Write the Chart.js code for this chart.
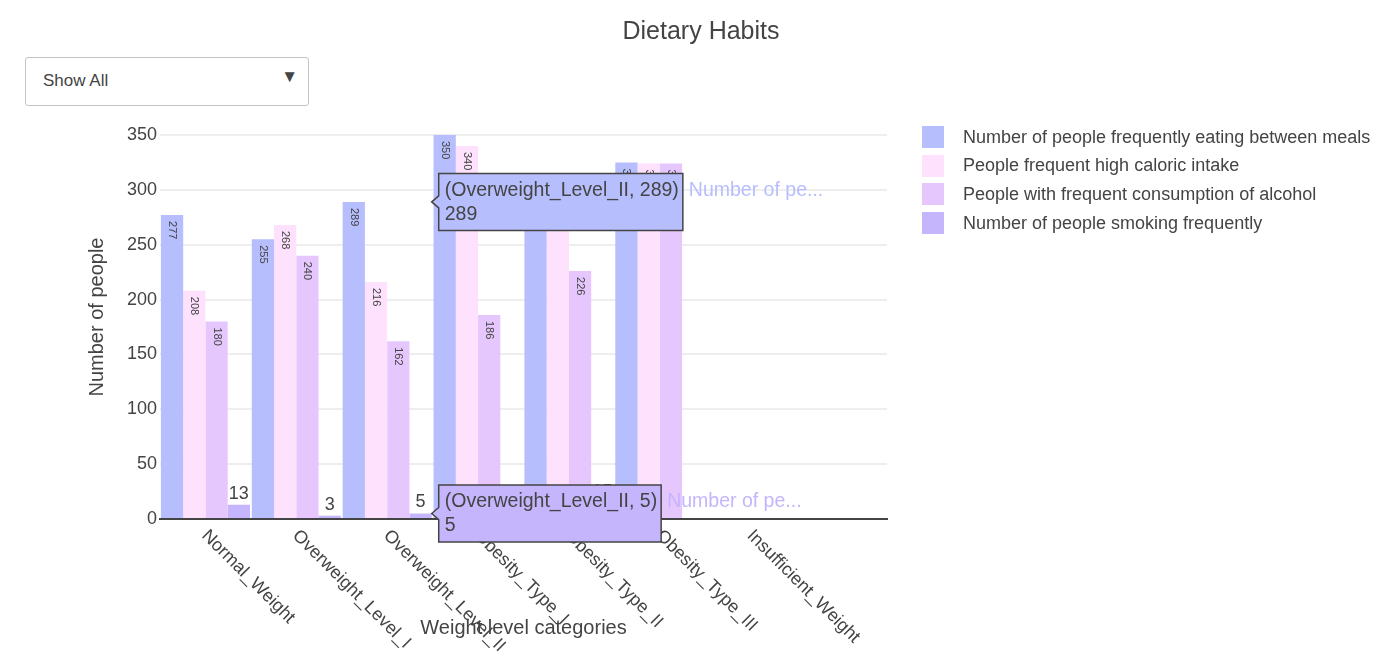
<!DOCTYPE html>
<html>
<head>
<meta charset="utf-8">
<title>Dietary Habits</title>
<script src="https://cdn.jsdelivr.net/npm/chart.js@4/dist/chart.umd.min.js"></script>
<style>
  body { margin: 0; width: 1390px; height: 661px; overflow: hidden; background: #fff;
         font-family: "Liberation Sans", Arial, sans-serif; color: #444; position: relative; }
  #title { position: absolute; top: 15px; left: 0; width: 1402px; text-align: center; font-size: 25px; line-height: 30px; }
  #picker { position: absolute; left: 25px; top: 57px; width: 284px; height: 49px; box-sizing: border-box;
            border: 1px solid #c4c4c4; border-radius: 3px; background: #fff; }
  #picker span { position: absolute; left: 17px; top: 13px; font-size: 17px; }
  #picker b { position: absolute; right: 10px; top: 9px; font-size: 17px; font-weight: normal; color: #444; }
  #legend { position: absolute; left: 922px; top: 123px; }
  .item { display: flex; align-items: center; height: 28.6px; font-size: 18px; }
  .sw { width: 22px; height: 22px; margin-right: 19px; }
  canvas { position: absolute; left: 0; top: 0; }
</style>
</head>
<body>
<canvas id="chart" width="1390" height="661"></canvas>
<div id="title">Dietary Habits</div>
<div id="picker"><span>Show All</span><b>▼</b></div>
<div id="legend"></div>
<script>
// ── data ──────────────────────────────────────────────────────────
const categories = ['Normal_Weight', 'Overweight_Level_I', 'Overweight_Level_II',
                    'Obesity_Type_I', 'Obesity_Type_II', 'Obesity_Type_III', 'Insufficient_Weight'];
const seriesNames = ['Number of people frequently eating between meals',
                     'People frequent high caloric intake',
                     'People with frequent consumption of alcohol',
                     'Number of people smoking frequently'];
const betweenMeals = [277, 255, 289, 350, 290, 325, 0];
const highCaloric  = [208, 268, 216, 340, 295, 324, 0];
const alcohol      = [180, 240, 162, 186, 226, 324, 0];
const smoking      = [13, 3, 5, 2, 15, 0, 0];
const seriesColors = ['#b7befd', '#fde1fd', '#e5c7fd', '#c5b5fc'];
const yTicks = [0, 50, 100, 150, 200, 250, 300, 350];
// hover labels frozen in the picture: [series index, category index]
const hovered = [[0, 2], [3, 2]];

const FONT = '"Liberation Sans", Arial, sans-serif';
const series = [betweenMeals, highCaloric, alcohol, smoking];

// legend
document.getElementById('legend').innerHTML = seriesNames.map((n, i) =>
  `<div class="item"><div class="sw" style="background:${seriesColors[i]}"></div>${n}</div>`).join('');

// value labels: rotated inside tall bars, plain above short ones
const barLabels = {
  id: 'barLabels',
  afterDatasetsDraw(chart) {
    const ctx = chart.ctx;
    chart.data.datasets.forEach((ds, di) => {
      chart.getDatasetMeta(di).data.forEach((bar, i) => {
        const v = ds.data[i].y;
        if (!v) return;
        ctx.save();
        ctx.fillStyle = '#444';
        if (bar.base - bar.y > 30) {
          ctx.font = `11px ${FONT}`;
          ctx.translate(bar.x, bar.y + 6);
          ctx.rotate(Math.PI / 2);
          ctx.textAlign = 'left';
          ctx.textBaseline = 'middle';
          ctx.fillText(String(v), 0, 0);
        } else {
          ctx.font = `18px ${FONT}`;
          ctx.textAlign = 'center';
          ctx.textBaseline = 'bottom';
          ctx.fillText(String(v), bar.x, bar.y - 2);
        }
        ctx.restore();
      });
    });

    // slanted category labels
    const x = chart.scales.x;
    ctx.save();
    ctx.font = `18px ${FONT}`;
    ctx.fillStyle = '#444';
    ctx.textAlign = 'left';
    ctx.textBaseline = 'middle';
    categories.forEach((c, i) => {
      ctx.save();
      ctx.translate(x.getPixelForValue(i) - 1, chart.chartArea.bottom + 14);
      ctx.rotate(Math.PI / 4);
      ctx.fillText(c, 0, 0);
      ctx.restore();
    });
    ctx.restore();
  }
};

// plotly-style hover boxes
const hoverLabels = {
  id: 'hoverLabels',
  afterDatasetsDraw(chart) {
    const ctx = chart.ctx, y = chart.scales.y;
    hovered.forEach(([si, ci]) => {
      const ds = chart.data.datasets[si];
      const v = ds.data[ci].y;
      const edge = chart.getDatasetMeta(3).data[ci];
      const tx = edge.x + edge.width / 2;
      const ty = y.getPixelForValue(v);
      const line1 = `(${categories[ci]}, ${v})`;
      ctx.save();
      ctx.font = `19.5px ${FONT}`;
      const w = ctx.measureText(line1).width + 10;
      const h = 57, l = tx + 7, t = ty - h / 2;
      ctx.beginPath();
      ctx.moveTo(tx, ty);
      ctx.lineTo(l, ty - 6);
      ctx.lineTo(l, t);
      ctx.lineTo(l + w, t);
      ctx.lineTo(l + w, t + h);
      ctx.lineTo(l, t + h);
      ctx.lineTo(l, ty + 6);
      ctx.closePath();
      ctx.fillStyle = ds.backgroundColor;
      ctx.fill();
      ctx.strokeStyle = '#444';
      ctx.lineWidth = 1.5;
      ctx.stroke();
      ctx.fillStyle = '#444';
      ctx.textAlign = 'left';
      ctx.textBaseline = 'middle';
      ctx.fillText(line1, l + 6, t + 17);
      ctx.fillText(String(v), l + 6, t + 41);
      ctx.fillStyle = ds.backgroundColor;
      ctx.fillText(ds.label.slice(0, 12) + '...', l + w + 6, t + 17);
      ctx.restore();
    });
  }
};

Chart.defaults.font.family = FONT;
Chart.defaults.color = '#444';

new Chart(document.getElementById('chart'), {
  type: 'bar',
  data: {
    datasets: series.map((vals, i) => ({
      label: seriesNames[i],
      data: vals.map((v, k) => ({x: k, y: v})),
      backgroundColor: seriesColors[i],
      borderWidth: 0,
      barPercentage: 1,
      categoryPercentage: 0.98,
    })),
  },
  options: {
    responsive: false,
    animation: false,
    layout: {padding: {top: 115, right: 503, left: 0, bottom: 0}},
    plugins: {legend: {display: false}, tooltip: {enabled: false}},
    scales: {
      x: {
        type: 'linear', min: -0.5, max: 7.5, offset: false,
        afterFit(s) { s.height = 142; },
        afterBuildTicks(s) { s.ticks = categories.map((_, i) => ({value: i})); },
        ticks: {display: false},
        grid: {display: false},
        border: {display: true, color: '#444', width: 2},
        title: {display: true, text: 'Weight level categories', font: {size: 20}, color: '#444', padding: {bottom: 21}},
      },
      y: {
        min: 0, max: 368.2,
        afterFit(s) { s.width = 160; },
        afterBuildTicks(s) { s.ticks = yTicks.map(v => ({value: v})); },
        ticks: {font: {size: 18}, color: '#444', padding: 3},
        grid: {color: '#eeeeee', lineWidth: 2, drawTicks: false},
        border: {display: false},
        title: {display: true, text: 'Number of people', font: {size: 20}, color: '#444', padding: {top: 85}},
      },
    },
  },
  plugins: [barLabels, hoverLabels],
});
</script>
</body>
</html>
